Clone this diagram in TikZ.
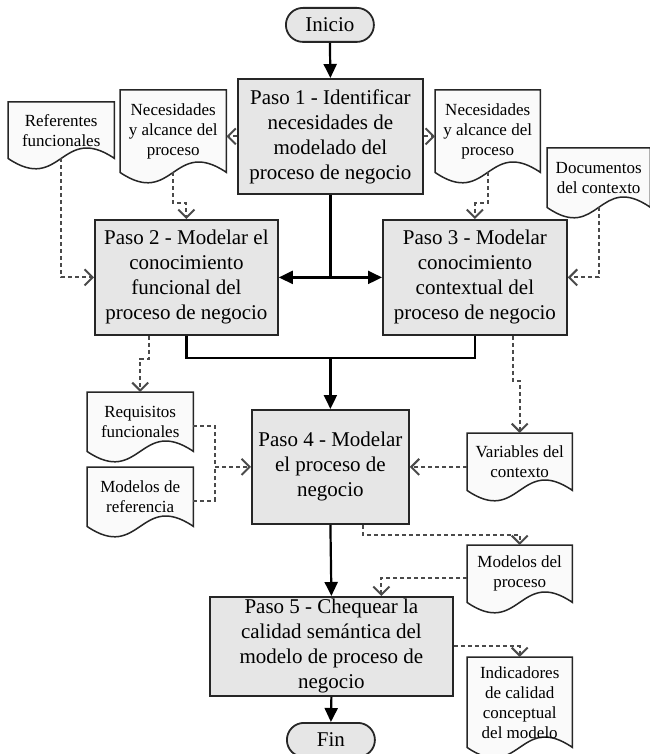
\documentclass[tikz,border=0pt]{standalone}
\usepackage{fontspec}
\setmainfont{Liberation Serif}
\usetikzlibrary{arrows.meta,calc,backgrounds}
\definecolor{boxgray}{HTML}{E6E6E6}
\definecolor{docfill}{HTML}{FAFAFA}
\definecolor{dashgray}{HTML}{4A4A4A}
\tikzset{
  stepbox/.style={draw=black!85, fill=boxgray, line width=1.8pt, inner sep=0pt, anchor=north west, align=center, font=\fontsize{21}{25}\selectfont},
  termbox/.style={draw=black!85, fill=boxgray, line width=1.8pt, inner sep=0pt, anchor=north west, rounded corners=17pt, font=\fontsize{21}{25}\selectfont},
  docnode/.style={draw=none, inner sep=0pt, anchor=north west, align=center, font=\fontsize{17}{20}\selectfont},
  docline/.style={draw=black!85, fill=docfill, line width=1.5pt},
  flow/.style={draw=black, line width=2.2pt, -{Triangle[length=14pt,width=13pt]}},
  flowline/.style={draw=black, line width=2.2pt},
  dref/.style={draw=dashgray, line width=2pt, dash pattern=on 4pt off 3pt, -{Straight Barb[length=8pt,width=16pt,line width=2pt]}},
  drefline/.style={draw=dashgray, line width=2pt, dash pattern=on 4pt off 3pt},
}
\newcommand{\docout}[1]{%
  \begin{scope}[on background layer]
  \draw[docline] (#1.north west) -- (#1.north east) -- (#1.south east)
    .. controls ($(#1.south)+(0,-36)$) and ($(#1.south)+(0,36)$) .. (#1.south west) -- cycle;
  \end{scope}}
\begin{document}
\begin{tikzpicture}[x=1pt,y=-1pt]
\useasboundingbox (0,0) rectangle (649,754);
% terminators
\node[termbox, minimum width=88pt, minimum height=34pt] (ini) at (285,7) {Inicio};
\node[termbox, minimum width=88pt, minimum height=34pt] (fin) at (286,722) {Fin};
% steps
\node[stepbox, minimum width=185pt, minimum height=115pt] (p1) at (237,78) {Paso 1 - Identificar\\necesidades de\\modelado del\\proceso de negocio};
\node[stepbox, minimum width=183pt, minimum height=115pt] (p2) at (94,219) {Paso 2 - Modelar el\\conocimiento\\funcional del\\proceso de negocio};
\node[stepbox, minimum width=184pt, minimum height=115pt] (p3) at (382,219) {Paso 3 - Modelar\\conocimiento\\contextual del\\proceso de negocio};
\node[stepbox, minimum width=157pt, minimum height=114pt] (p4) at (251,409) {Paso 4 - Modelar\\el proceso de\\negocio};
\node[stepbox, minimum width=243pt, minimum height=99pt] (p5) at (209,596) {Paso 5 - Chequear la\\calidad semántica del\\modelo de proceso de\\negocio};
% documents
\node[docnode, minimum width=106pt, minimum height=82pt] (necL) at (120,90) {Necesidades\\y alcance del\\proceso};
\node[docnode, minimum width=105pt, minimum height=82pt] (necR) at (435,90) {Necesidades\\y alcance del\\proceso};
\node[docnode, minimum width=106pt, minimum height=56pt] (refF) at (8,102) {Referentes\\funcionales};
\node[docnode, minimum width=103pt, minimum height=59pt] (docC) at (547,148) {Documentos\\del contexto};
\node[docnode, minimum width=106pt, minimum height=59pt] (req) at (87,392) {Requisitos\\funcionales};
\node[docnode, minimum width=106pt, minimum height=59pt] (mref) at (87,467) {Modelos de\\referencia};
\node[docnode, minimum width=105pt, minimum height=57pt] (var) at (467,433) {Variables del\\contexto};
\node[docnode, minimum width=105pt, minimum height=57pt] (mproc) at (467,545) {Modelos del\\proceso};
\node[docnode, minimum width=105pt, minimum height=90pt] (ind) at (467,657) {Indicadores\\de calidad\\conceptual\\del modelo};
\docout{necL}\docout{necR}\docout{refF}\docout{docC}\docout{req}\docout{mref}\docout{var}\docout{mproc}\docout{ind}
% solid flow
\draw[flow] (ini.south) -- (p1.north);
\coordinate (j1) at (p1.south |- p2.east);
\draw[flowline] (p1.south) -- (j1);
\draw[flow] (j1) -- (p2.east);
\draw[flow] (j1) -- (p3.west);
\coordinate (j2) at ($(p1.south |- p2.south)+(0,22)$);
\draw[flowline] (p2.south) |- (j2);
\draw[flowline] (p3.south) |- (j2);
\draw[flow] (j2) -- (p4.north);
\draw[flow] (p4.south) -- (p5.north);
\draw[flow] (p5.south) -- (fin.north);
% dashed references
\draw[dref] (p1.west) -- (p1.west -| necL.east);
\draw[dref] (p1.east) -- (p1.east -| necR.west);
\draw[dref] (refF.south) |- (p2.west);
\draw[dref] (necL.south) -- ++(0,31) -| (p2.north);
\draw[dref] (necR.south) -- ++(0,31) -| (p3.north);
\draw[dref] (docC.south) |- (p3.east);
\draw[dref] ([xshift=-37.5pt]p2.south) -- ++(0,23) -| (req.north);
\draw[dref] ([xshift=38pt]p3.south) -- ++(0,45) -| (var.north);
\coordinate (mj) at ([xshift=-36pt]p4.west);
\draw[drefline] ([yshift=-4pt]req.east) -| (mj);
\draw[drefline] ([yshift=-4pt]mref.east) -| (mj);
\draw[dref] (mj) -- (p4.west);
\draw[dref] (var.west |- p4.east) -- (p4.east);
\draw[dref] ([xshift=32.5pt]p4.south) -- ++(0,10) -| (mproc.north);
\draw[dref] ([yshift=-4pt]mproc.west) -| ([xshift=50pt]p5.north);
\draw[dref] (p5.east) -| (ind.north);
\end{tikzpicture}
\end{document}
